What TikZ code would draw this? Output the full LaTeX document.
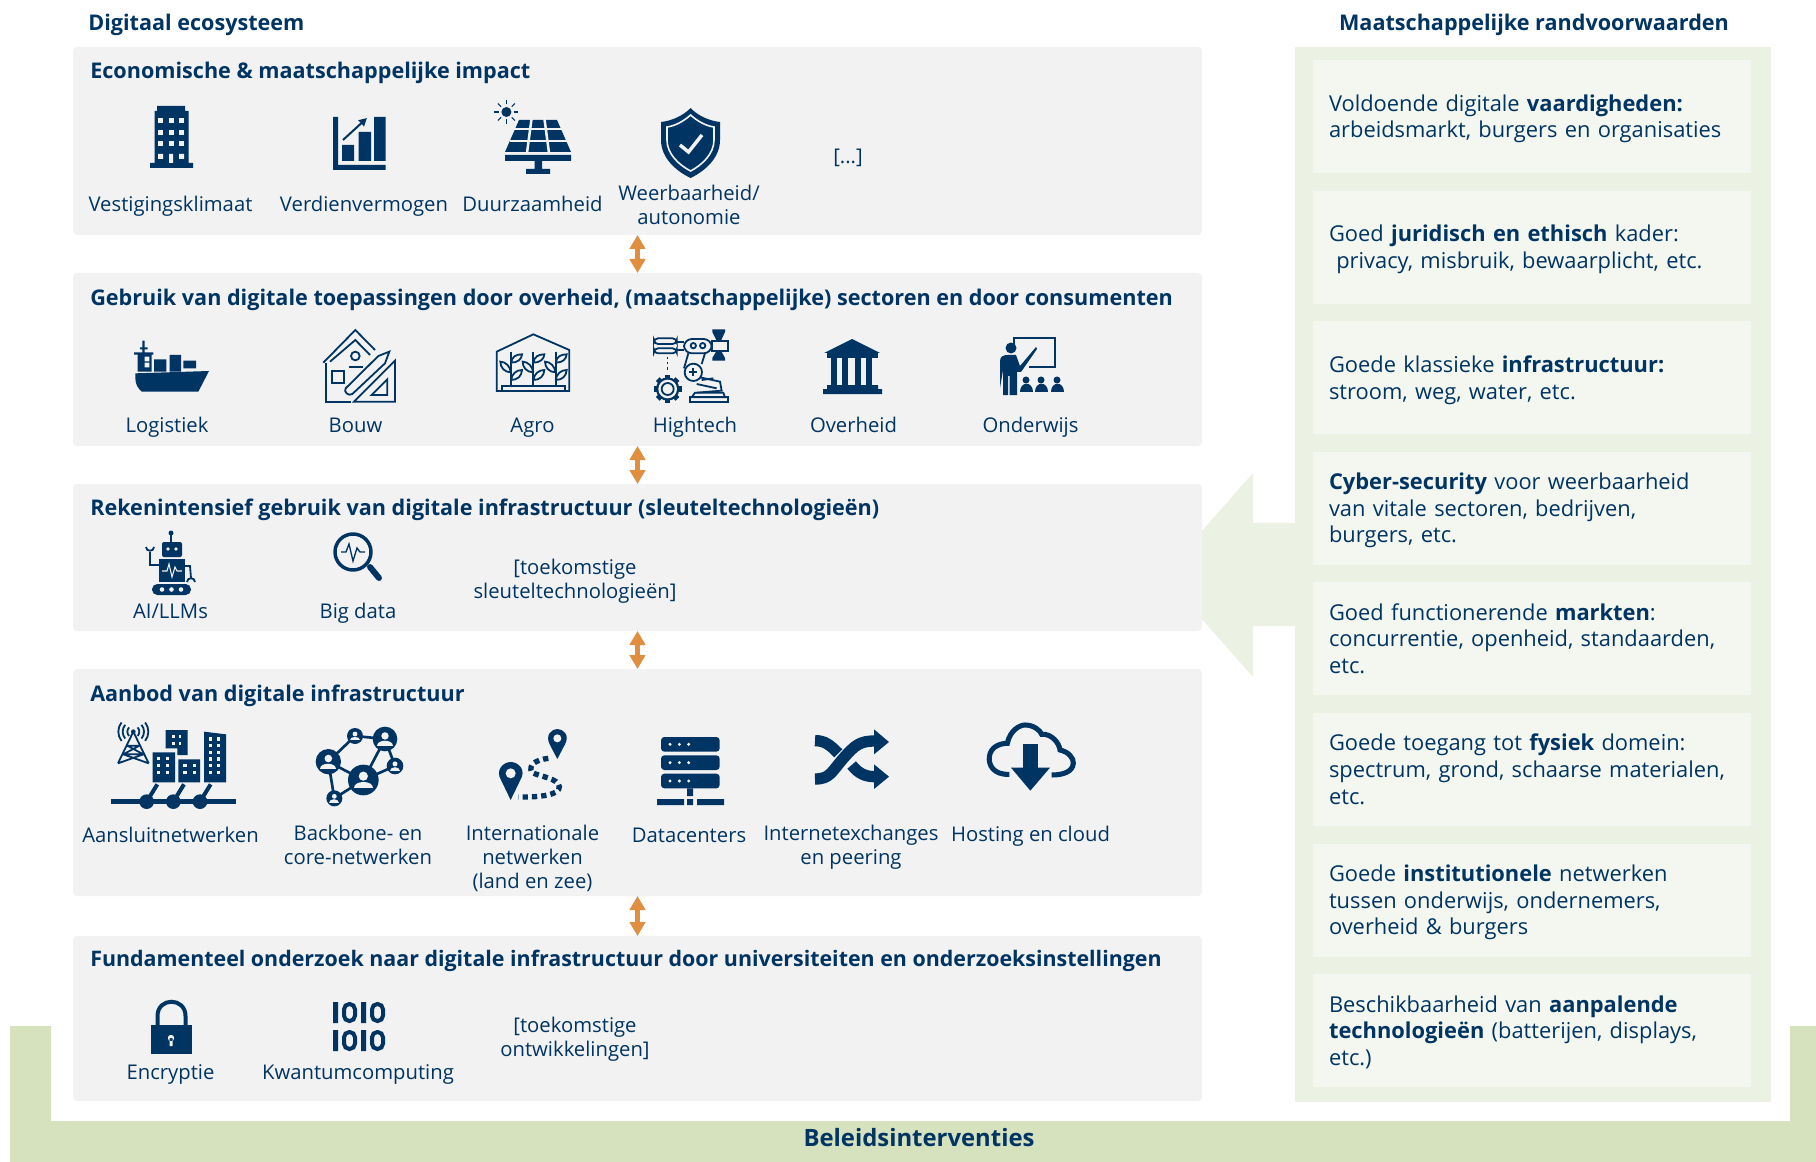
\documentclass[tikz,border=0pt]{standalone}
\usepackage{fontspec}
\setmainfont{Open Sans}
\usetikzlibrary{arrows.meta,positioning}
\definecolor{navy}{HTML}{003462}
\definecolor{panelgrey}{HTML}{F2F2F2}
\definecolor{bandgreen}{HTML}{EBF1E3}
\definecolor{boxgreen}{HTML}{F4F7EF}
\definecolor{beleidgreen}{HTML}{D6E2BE}
\definecolor{pijloranje}{HTML}{E08F40}
\newcommand{\kopfont}{\fontsize{16.2}{20}\selectfont\bfseries}
\newcommand{\beleidfont}{\fontsize{17.9}{20}\selectfont\bfseries}
\newcommand{\labelfont}{\fontsize{15.2}{18}\selectfont}
\newcommand{\condfont}{\fontsize{16.4}{20}\selectfont}
\newcommand{\labelstrut}{\rule[-5.4pt]{0pt}{18pt}}
\newcommand{\condstrut}{\rule[-4pt]{0pt}{20pt}}
\newcommand{\netperson}[3]{%
  \fill[navy] (#1,#2) circle (#3);
  \fill[panelgrey] (#1,#2-0.25*#3) circle (0.3*#3);
  \fill[panelgrey] (#1-0.62*#3,#2+0.55*#3) .. controls (#1-0.62*#3,#2) and (#1+0.62*#3,#2) .. (#1+0.62*#3,#2+0.55*#3) -- cycle;
}
\newcommand{\agroplant}[1]{%
  \draw[iconline] (#1,95) -- (#1,197);
  \draw[iconline] (#1,128) .. controls (#1+3,110) and (#1+15,103) .. (#1+33,103) .. controls (#1+32,118) and (#1+20,128) .. (#1,128);
  \draw[iconline] (#1,180) .. controls (#1+3,162) and (#1+15,150) .. (#1+33,150) .. controls (#1+32,168) and (#1+20,180) .. (#1,180);
  \draw[iconline] (#1,157) .. controls (#1-3,140) and (#1-15,125) .. (#1-32,125) .. controls (#1-32,142) and (#1-20,157) .. (#1,157);
}
\tikzset{
  panel/.style={fill=panelgrey, rounded corners=3pt, anchor=north west, minimum width=846.75pt, outer sep=0pt, inner sep=0pt},
  paneltitle/.style={anchor=west, font=\kopfont, text=navy, inner sep=0pt},
  iconlabel/.style={align=center, font=\labelfont, text=navy, inner sep=0pt, execute at begin node=\labelstrut, execute at end node=\labelstrut},
  condbox/.style={fill=boxgreen, anchor=north west, minimum width=328.5pt, minimum height=84.75pt, text width=304.5pt, inner xsep=12pt, inner ysep=0pt, align=left, font=\condfont, text=navy, outer sep=0pt, execute at begin node=\condstrut, execute at end node=\condstrut},
  dubbelpijl/.style={{Triangle[length=10.5pt,width=11.5pt]}-{Triangle[length=10.5pt,width=11.5pt]}, draw=pijloranje, fill=pijloranje, line width=3.6pt},
  iconline/.style={draw=navy, line width=1.35pt},
  zoomed/.style={shift={#1}, scale=1/3}
}
\begin{document}
\begin{tikzpicture}[x=0.75pt, y=-0.75pt, node distance=13.2pt]
  \useasboundingbox (0,0) rectangle (1816,1162);

  \fill[beleidgreen] (10,1026) -- (51,1026) -- (51,1121) -- (1790,1121) -- (1790,1026) -- (1816,1026) -- (1816,1162) -- (10,1162) -- cycle;
  \node[paneltitle, anchor=center, font=\beleidfont] (beleid) at (919,1138) {Beleidsinterventies};

  \fill[bandgreen] (1295,47) rectangle (1771,1102);
  \fill[bandgreen] (1295,523) -- (1253,523) -- (1253,473) -- (1163,575) -- (1253,677) -- (1253,626) -- (1295,626) -- cycle;

  \node[paneltitle] (ecosysteem) at (88,25) {Digitaal ecosysteem};
  \node[paneltitle, anchor=center] (randvoorwaarden) at (1534,25) {Maatschappelijke randvoorwaarden};

  \node[panel, minimum height=141pt] (impact) at (73,47) {};
  \node[panel, minimum height=129.75pt] (gebruik) at (73,273) {};
  \node[panel, minimum height=110.25pt] (rekenen) at (73,484) {};
  \node[panel, minimum height=170.25pt] (aanbod) at (73,669) {};
  \node[panel, minimum height=123.75pt] (onderzoek) at (73,936) {};

  \draw[dubbelpijl] (impact) -- (gebruik);
  \draw[dubbelpijl] (gebruik) -- (rekenen);
  \draw[dubbelpijl] (rekenen) -- (aanbod);
  \draw[dubbelpijl] (aanbod) -- (onderzoek);

  \node[paneltitle] (impacttitel) at (90,73) {Economische \& maatschappelijke impact};
  \node[paneltitle] (gebruiktitel) at (90,300) {Gebruik van digitale toepassingen door overheid, (maatschappelijke) sectoren en door consumenten};
  \node[paneltitle] (rekenentitel) at (90,510) {Rekenintensief gebruik van digitale infrastructuur (sleuteltechnologieën)};
  \node[paneltitle] (aanbodtitel) at (90,696) {Aanbod van digitale infrastructuur};
  \node[paneltitle, font=\fontsize{16.05}{20}\selectfont\bfseries] (onderzoektitel) at (90,961) {Fundamenteel onderzoek naar digitale infrastructuur door universiteiten en onderzoeksinstellingen};

  \node[iconlabel] (vestiging) at (170.5,207) {Vestigingsklimaat};
  \node[iconlabel] (verdien) at (364,207) {Verdienvermogen};
  \node[iconlabel] (duurzaam) at (532.5,207) {Duurzaamheid};
  \node[iconlabel] (weerbaar) at (689,208) {Weerbaarheid/\\autonomie};
  \node[iconlabel] (etc) at (848,159) {[...]};

  \node[iconlabel] (logistiek) at (167,428) {Logistiek};
  \node[iconlabel] (bouw) at (355.5,428) {Bouw};
  \node[iconlabel] (agro) at (532.5,428) {Agro};
  \node[iconlabel] (hightech) at (695,428) {Hightech};
  \node[iconlabel] (overheid) at (853.5,428) {Overheid};
  \node[iconlabel] (onderwijs) at (1030.5,428) {Onderwijs};

  \node[iconlabel] (ai) at (170.5,614) {AI/LLMs};
  \node[iconlabel] (bigdata) at (358,614) {Big data};
  \node[iconlabel] (sleutel) at (575,582) {[toekomstige\\sleuteltechnologieën]};

  \node[iconlabel, anchor=north] (aansluit) at (170.5,825) {Aansluitnetwerken};
  \node[iconlabel, anchor=north] (backbone) at (358,825) {Backbone- en\\core-netwerken};
  \node[iconlabel, anchor=north] (internationaal) at (532.5,825) {Internationale\\netwerken\\(land en zee)};
  \node[iconlabel, anchor=north] (datacenters) at (689,825) {Datacenters};
  \node[iconlabel, anchor=north] (exchanges) at (851,825) {Internetexchanges\\en peering};
  \node[iconlabel, anchor=north] (hosting) at (1030.5,824) {Hosting en cloud};

  \node[iconlabel] (encryptie) at (170.5,1074.5) {Encryptie};
  \node[iconlabel] (kwantum) at (358,1074.5) {Kwantumcomputing};
  \node[iconlabel] (ontwikkel) at (575,1040.5) {[toekomstige\\ontwikkelingen]};

  \node[condbox] (vaardig) at (1313,60) {Voldoende digitale \textbf{vaardigheden:}\\arbeidsmarkt, burgers en organisaties};
  \node[condbox, below=of vaardig] (juridisch) {Goed \textbf{juridisch en ethisch} kader:\\\ privacy, misbruik, bewaarplicht, etc.};
  \node[condbox, below=of juridisch] (klassiek) {Goede klassieke \textbf{infrastructuur:}\\stroom, weg, water, etc.};
  \node[condbox, below=of klassiek] (cyber) {\textbf{Cyber-security} voor weerbaarheid\\van vitale sectoren, bedrijven,\\burgers, etc.};
  \node[condbox, below=of cyber] (markten) {Goed functionerende \textbf{markten}:\\concurrentie, openheid, standaarden,\\etc.};
  \node[condbox, below=of markten] (fysiek) {Goede toegang tot \textbf{fysiek} domein:\\spectrum, grond, schaarse materialen,\\etc.};
  \node[condbox, below=of fysiek] (institutioneel) {Goede \textbf{institutionele} netwerken\\tussen onderwijs, ondernemers,\\overheid \& burgers};
  \node[condbox, below=of institutioneel] (aanpalend) {Beschikbaarheid van \textbf{aanpalende}\\\textbf{technologieën} (batterijen, displays,\\etc.)};

  % impact
  \fill[navy] (157,106) rectangle (185,112) (154.5,111) rectangle (188.5,164) (150,163) rectangle (193,168);
  \foreach \wx in {160.5,171,181.5}
    \foreach \wy in {120.7,132.3,144}
      \fill[panelgrey] (\wx-2.5,\wy-2.5) rectangle (\wx+2.5,\wy+2.5);
  \fill[panelgrey] (158,154) rectangle (163,159) (169,154) rectangle (173,163) (179,154) rectangle (184,159);

  \fill[navy] (333,117) rectangle (338,170) (333,165) rectangle (385.5,170);
  \fill[navy] (342,145) rectangle (354,161) (358.5,132) rectangle (371,161) (374,117) rectangle (385.5,161);
  \draw[navy, line width=1.5pt, -{Triangle[length=6pt,width=6pt]}] (343,140) -- (367,118);

  \fill[navy] (506.4,112) circle (5);
  \foreach \a in {0,45,...,315}
    \draw[navy, line width=0.8pt] (506.4,112) ++(\a:7.5) -- ++(\a:4.5);
  \fill[navy] (519,120) -- (557,120) -- (571,152) -- (505,152) -- cycle;
  \draw[panelgrey, line width=1.9pt] (514,129) -- (563,129) (510,141) -- (567,141);
  \draw[panelgrey, line width=1.9pt] (531.5,119) -- (527,153) (544.5,119) -- (549,153);
  \fill[navy] (505,155) rectangle (571,161) (534.5,161) rectangle (542,170) (526,169) rectangle (550,174);

  \fill[navy] (690.6,108) .. controls (698,116) and (710,121) .. (720,122) -- (720,140) .. controls (720,158) and (705,171) .. (690.6,178) .. controls (676,171) and (661,158) .. (661,140) -- (661,122) .. controls (671,121) and (683,116) .. (690.6,108) -- cycle;
  \draw[panelgrey, line width=1.2pt] (690.6,115) .. controls (697,121) and (706,126) .. (714,127) -- (714,140) .. controls (714,154) and (702,165) .. (690.6,171) .. controls (679,165) and (667,154) .. (667,140) -- (667,127) .. controls (675,126) and (684,121) .. (690.6,115) -- cycle;
  \draw[panelgrey, line width=2.6pt] (680,145) -- (688.5,152) -- (702,135);

  % gebruik
  \begin{scope}[zoomed={(100,320)}]
    \fill[navy] (127,62) rectangle (134,100) (120,82) rectangle (143,88) (102,97) rectangle (160,104);
    \fill[navy] (113,100) rectangle (155,155) (162,118) rectangle (199,155) (209,105) rectangle (243,155) (250,122) rectangle (288,145);
    \fill[panelgrey] (134,110) rectangle (148,124) (134,128) rectangle (148,142);
    \fill[navy] (106,160) -- (327,153) -- (295,215) -- (125,215) .. controls (115,205) and (106,195) .. (106,175) -- cycle;

    \draw[iconline] (670,128) -- (766,30) -- (825,90);
    \draw[iconline] (690,125) -- (766,60) -- (810,105);
    \draw[iconline] (678,128) -- (678,245) -- (752,245);
    \draw[iconline] (695,153) rectangle (733,190);
    \draw[iconline] (766,108) circle (13);
    \draw[iconline] (748,140) -- (790,140);
    \draw[iconline] (737,205) -- (835,108) -- (868,95) -- (855,130) -- (757,222) .. controls (745,230) and (730,215) .. (737,205);
    \draw[iconline] (885,122) -- (885,245) -- (762,245) -- cycle;
    \draw[iconline] (862,178) -- (862,225) -- (815,225) -- cycle;
  \end{scope}
  \begin{scope}[zoomed={(480,320)}]
    \draw[iconline] (50,95) -- (160,43) -- (268,90) -- (268,213) -- (50,213) -- cycle;
    \draw[iconline] (65,213) -- (65,197) -- (255,197) -- (255,213);
    \agroplant{93}
    \agroplant{160}
    \agroplant{227}

    \draw[iconline, rounded corners=3pt] (590,55) -- (522,55) -- (522,72) -- (590,72) -- cycle;
    \draw[iconline, rounded corners=3pt] (590,85) -- (522,85) -- (522,100) -- (590,100) -- cycle;
    \draw[iconline] (590,66) -- (612,66) (590,90) -- (612,90);
    \draw[iconline, rounded corners=6pt] (612,57) rectangle (695,100);
    \draw[iconline] (640,77) circle (8) (668,77) circle (8);
    \draw[iconline] (695,62) rectangle (743,92);
    \fill[navy] (697,28) -- (735,28) -- (735,36) -- (723,62) -- (710,62) -- (697,36) -- cycle;
    \fill[navy] (697,122) -- (735,122) -- (735,114) -- (723,92) -- (710,92) -- (697,114) -- cycle;
    \draw[navy, line width=1.2pt, dash pattern=on 1.8pt off 2.2pt] (563,110) -- (563,150);
    \foreach \a in {0,45,...,315}
      \fill[navy] (563,207) ++(\a:30) ++(\a+90:8) -- ++(\a:12) -- ++(\a-90:16) -- ++(\a:-12) -- cycle;
    \fill[navy] (563,207) circle (35);
    \fill[panelgrey] (563,207) circle (28);
    \draw[iconline] (563,207) circle (18);
    \draw[iconline] (625,100) -- (612,145) (675,100) -- (665,132);
    \draw[iconline] (640,157) circle (26);
    \draw[navy, line width=1.5pt] (628,157) -- (652,157) (640,145) -- (640,169);
    \draw[iconline] (660,172) -- (720,185) -- (725,212) -- (650,218);
    \draw[iconline] (650,192) -- (710,205) (665,180) -- (700,175);
    \draw[iconline] (645,218) -- (730,218) -- (735,232) -- (635,232) -- cycle;
    \draw[iconline] (630,232) rectangle (743,247);
  \end{scope}
  \fill[navy] (852,339) -- (880,353) -- (824,353) -- cycle;
  \fill[navy] (827,353) rectangle (878,358);
  \foreach \cx in {834,845,858,869}
    \fill[navy] (\cx-3,358) rectangle (\cx+3,386);
  \fill[navy] (827,385) rectangle (878,389) (823,389) rectangle (882,394);

  \draw[navy, line width=1.5pt] (1014,346) -- (1014,338) -- (1055,338) -- (1055,367) -- (1029,367);
  \fill[navy] (1011,348) circle (5.5);
  \fill[navy] (1000,388) -- (1000,361) .. controls (1000,356) and (1004,355) .. (1008,355) -- (1016,355) -- (1020,366) -- (1036,347) -- (1037,349) -- (1021,372) -- (1017,372) -- (1017,395) -- (1009.5,395) -- (1009.5,376) -- (1008,376) -- (1008,395) -- (1003,395) -- (1003,370) -- cycle;
  \foreach \ax in {1026,1041,1057} {
    \fill[navy] (\ax,380) circle (3.5);
    \fill[navy] (\ax-6.5,392) .. controls (\ax-6.5,381) and (\ax+6.5,381) .. (\ax+6.5,392) -- cycle;
  }

  % rekenen
  \draw[navy, line width=1pt] (171,533) -- (171,542);
  \fill[navy] (171,533) circle (2.5);
  \fill[navy, rounded corners=1.5pt] (162,542) rectangle (182,557);
  \fill[panelgrey] (168,549) circle (1.8) (176,549) circle (1.8);
  \fill[navy] (159,559) rectangle (185,582);
  \draw[panelgrey, line width=0.8pt] (162,571) -- (167,571) -- (169,564) -- (172,577) -- (175,567) -- (177,571) -- (182,571);
  \fill[navy, rounded corners=4pt] (152,584) rectangle (191,595);
  \foreach \rx in {162,171.5,181}
    \fill[panelgrey] (\rx,589.5) circle (2.3);
  \draw[iconline] (159,565) -- (150,565) -- (150,552) (146,547) .. controls (146,552) and (154,552) .. (154,547);
  \draw[iconline] (185,566) -- (190,566) -- (191,578) (187,582) .. controls (187,577) and (195,577) .. (195,582);

  \draw[navy, line width=2.6pt] (353,552) circle (18);
  \draw[navy, line width=1pt] (341,552) -- (346,552) -- (349,544) -- (353,561) -- (357,548) -- (360,552) -- (365,552);
  \draw[navy, line width=4.5pt, line cap=round] (370,567) -- (379,578);

  % aanbod
  \begin{scope}[zoomed={(100,715)}]
    \fill[navy] (100,50) circle (7);
    \draw[iconline] (100,50) -- (54,145) (100,50) -- (146,145) (82,92) -- (118,92) (70,118) -- (130,118) (82,92) -- (130,118) (118,92) -- (70,118) (70,118) -- (146,145) (130,118) -- (54,145);
    \draw[iconline] (87.3,37.3) arc (225:135:18) (75.5,29.4) arc (220:140:32) (64.5,22.3) arc (218:142:45);
    \draw[iconline] (112.7,37.3) arc (-45:45:18) (124.5,29.4) arc (-40:40:32) (135.5,22.3) arc (-38:38:45);
    \fill[navy] (158,112) rectangle (225,202) (235,133) rectangle (300,202);
    \fill[navy] (197,45) -- (263,45) -- (263,120) -- (232,120) -- (232,100) -- (197,100) -- cycle;
    \fill[navy] (312,50) -- (378,58) -- (378,202) -- (312,202) -- cycle;
    \foreach \wx in {175,203} \foreach \wy in {131,152,173}
      \fill[panelgrey] (\wx-5,\wy-5) rectangle (\wx+5,\wy+5);
    \foreach \wx in {255,283} \foreach \wy in {152,173}
      \fill[panelgrey] (\wx-5,\wy-5) rectangle (\wx+5,\wy+5);
    \foreach \wx in {220,240} \foreach \wy in {65,85}
      \fill[panelgrey] (\wx-4,\wy-4) rectangle (\wx+4,\wy+4);
    \foreach \wx in {332,356} \foreach \wy in {72,92,112,132,152,172}
      \fill[panelgrey] (\wx-5,\wy-5) rectangle (\wx+5,\wy+5);
    \fill[navy] (32,253) rectangle (408,268);
    \foreach \nx in {140,220,300} {
      \fill[navy] (\nx,260) circle (22);
      \draw[navy, line width=3pt] (\nx,260) -- (\nx+32,208);
    }

    \draw[navy, line width=2pt] (685,140) -- (765,63) -- (855,72) -- (790,195) -- (685,140) -- (703,250) -- (790,195) -- (885,153) -- (855,72);
    \netperson{790}{195}{46}
    \netperson{685}{140}{38}
    \netperson{855}{72}{37}
    \netperson{765}{63}{24}
    \netperson{885}{153}{25}
    \netperson{703}{250}{24}
  \end{scope}
  \begin{scope}[zoomed={(480,715)}]
    \draw[navy, line width=4pt, dash pattern=on 4pt off 3pt] (205,130) .. controls (165,135) and (145,150) .. (155,172) .. controls (180,185) and (235,190) .. (238,215) .. controls (240,240) and (180,247) .. (115,246);
    \fill[navy] (232,132) -- (209,88) .. controls (195,60) and (215,42) .. (232,42) .. controls (250,42) and (270,60) .. (255,88) -- cycle;
    \fill[panelgrey] (232,70) circle (12);
    \fill[navy] (92,255) -- (63,195) .. controls (45,165) and (70,141) .. (92,141) .. controls (115,141) and (140,165) .. (121,195) -- cycle;
    \fill[panelgrey] (92,175) circle (15);

    \foreach \sy in {66,121,176} {
      \fill[navy, rounded corners=2.5pt] (543,\sy) rectangle (719,\sy+44);
      \foreach \dx in {570,598,626}
        \fill[panelgrey] (\dx,\sy+22) circle (5);
    }
    \fill[navy] (621,220) rectangle (639,243) (531,252) rectangle (612,270) (621,252) rectangle (639,270) (651,252) rectangle (732,270);
  \end{scope}
  \begin{scope}[zoomed={(780,715)}]
    \draw[navy, line width=8.5pt] (105,192) .. controls (150,192) and (155,170) .. (190,130) .. controls (225,90) and (240,78) .. (285,78);
    \draw[navy, line width=8.5pt] (105,77) .. controls (135,77) and (150,90) .. (175,115);
    \draw[navy, line width=8.5pt] (215,150) .. controls (235,175) and (255,185) .. (285,185);
    \fill[navy] (282,43) -- (327,81) -- (282,118) -- cycle (282,148) -- (327,185) -- (282,222) -- cycle;

    \draw[navy, line width=3.8pt] (688,178) .. controls (640,180) and (625,150) .. (628,125) .. controls (632,95) and (660,85) .. (682,85) .. controls (690,45) and (720,30) .. (735,30) .. controls (760,30) and (780,45) .. (785,58) .. controls (815,55) and (838,85) .. (840,105) .. controls (865,110) and (882,130) .. (880,145) .. controls (878,170) and (850,180) .. (815,180);
    \fill[navy] (729,88) rectangle (775,158);
    \fill[navy] (693,158) -- (810,158) -- (751,227) -- cycle;
  \end{scope}

  % onderzoek
  \draw[navy, line width=3pt] (157.5,1027) -- (157.5,1016) .. controls (157.5,997) and (185.5,997) .. (185.5,1016) -- (185.5,1027);
  \fill[navy] (150.5,1025) rectangle (192,1054);
  \fill[panelgrey] (171,1038) circle (3.2) (169.5,1038) rectangle (172.5,1046);
  \foreach \by in {1002,1030} {
    \fill[navy] (333,\by) rectangle (338,\by+21) (361,\by) rectangle (366,\by+21);
    \draw[navy, line width=3pt, rounded corners=4pt] (344,\by+2) rectangle (355,\by+19);
    \draw[navy, line width=3pt, rounded corners=4pt] (372,\by+2) rectangle (383,\by+19);
  }
\end{tikzpicture}
\end{document}
